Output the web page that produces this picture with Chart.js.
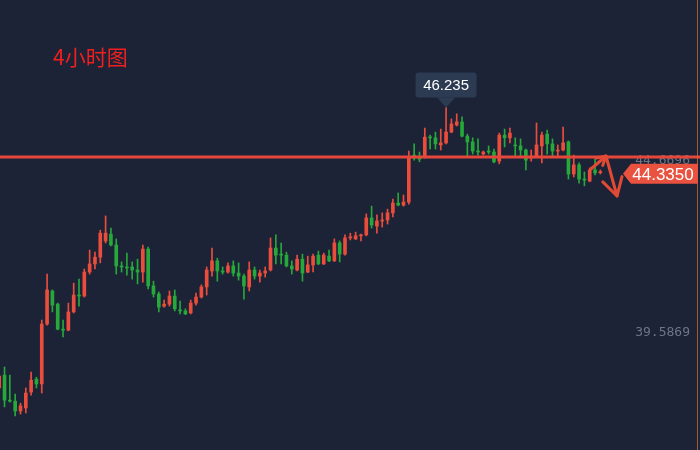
<!DOCTYPE html>
<html>
<head>
<meta charset="utf-8">
<script src="https://cdn.jsdelivr.net/npm/chart.js@4.4.0/dist/chart.umd.min.js"></script>
<style>
  html, body { margin: 0; padding: 0; background: #1c2336; }
  #wrap { width: 700px; height: 450px; position: relative; }
</style>
</head>
<body>
<div id="wrap"><canvas id="kline"></canvas></div>
<script>
// 4h candles, oldest first
const open = [
  37.94, 38.32, 37.58, 37.55, 37.26, 37.35, 37.82, 38.20, 38.06, 39.83,
  40.81, 40.42, 39.68, 39.65, 40.19, 40.69, 40.66, 41.37, 41.61, 41.81,
  42.29, 42.49, 42.17, 41.55, 41.52, 41.52, 41.43, 41.37, 42.05, 40.96,
  40.72, 40.36, 40.42, 40.66, 40.25, 40.22, 40.16, 40.45, 40.63, 40.93,
  41.40, 41.70, 41.40, 41.37, 41.55, 41.34, 41.25, 40.93, 41.43, 41.25,
  41.34, 41.43, 42.08, 41.90, 41.87, 41.55, 41.43, 41.75, 41.37, 41.58,
  41.87, 41.61, 41.84, 41.70, 42.23, 41.90, 42.38, 42.35, 42.44, 42.47,
  42.97, 42.73, 42.88, 42.91, 43.12, 43.41, 43.35, 43.44, 44.83, 44.77,
  44.77, 45.36, 45.34, 45.13, 45.19, 45.51, 45.72, 45.81, 45.39, 45.22,
  44.95, 44.86, 44.95, 44.92, 44.65, 45.42, 45.34, 45.13, 45.10, 44.98,
  44.74, 44.80, 45.10, 45.45, 45.16, 44.95, 44.98, 45.22, 44.27, 44.54,
  44.12, 44.06, 44.39, 44.31
];
const high = [
  38.41, 38.56, 38.32, 37.76, 37.49, 37.94, 38.41, 38.26, 39.95, 41.31,
  40.84, 40.45, 39.95, 40.45, 41.04, 41.16, 41.46, 42.02, 41.96, 42.61,
  43.03, 42.67, 42.35, 41.67, 41.93, 41.67, 41.75, 42.17, 42.11, 41.10,
  40.78, 40.54, 40.81, 40.84, 40.51, 40.28, 40.54, 40.75, 40.99, 41.52,
  42.08, 41.78, 41.52, 41.64, 41.70, 41.64, 41.31, 41.67, 41.52, 41.43,
  41.52, 42.38, 42.47, 42.23, 41.96, 41.70, 41.87, 41.90, 41.84, 41.90,
  41.99, 41.93, 42.02, 42.35, 42.29, 42.47, 42.52, 42.55, 42.49, 43.09,
  43.32, 43.06, 43.12, 43.23, 43.53, 43.71, 43.65, 44.95, 45.16, 44.92,
  45.63, 45.42, 45.51, 45.60, 46.235, 45.90, 46.05, 45.96, 45.45, 45.34,
  45.31, 44.95, 45.10, 45.01, 45.48, 45.60, 45.63, 45.34, 45.31, 45.01,
  44.98, 45.78, 45.51, 45.57, 45.31, 45.13, 45.66, 45.25, 44.83, 44.60,
  44.33, 44.45, 44.71, 44.39
];
const low = [
  37.82, 37.38, 37.52, 37.11, 37.17, 37.20, 37.73, 37.94, 37.79, 39.80,
  40.19, 39.66, 39.45, 39.63, 40.16, 40.36, 40.63, 41.31, 41.46, 41.64,
  42.23, 42.14, 41.31, 41.37, 41.28, 41.16, 41.02, 41.07, 40.87, 40.63,
  40.19, 40.33, 40.36, 40.22, 40.13, 40.11, 40.13, 40.39, 40.60, 40.69,
  41.25, 41.10, 41.31, 41.34, 41.25, 41.13, 40.57, 40.81, 41.16, 41.07,
  41.22, 41.40, 41.61, 41.61, 41.52, 41.31, 41.40, 41.10, 41.35, 41.37,
  41.59, 41.59, 41.68, 41.68, 41.67, 41.87, 42.32, 42.33, 42.29, 42.44,
  42.67, 42.52, 42.70, 42.79, 43.00, 43.33, 43.32, 43.38, 44.68, 44.63,
  44.74, 45.01, 45.01, 44.98, 45.16, 45.49, 45.69, 45.37, 44.80, 44.86,
  44.83, 44.83, 44.86, 44.60, 44.57, 45.07, 45.19, 44.80, 44.80, 44.39,
  44.65, 44.77, 44.60, 44.86, 44.80, 44.80, 44.95, 44.12, 44.18, 44.00,
  43.92, 44.04, 44.24, 44.27
];
const close = [
  38.29, 37.58, 37.55, 37.26, 37.41, 37.79, 38.17, 38.06, 39.83, 40.84,
  40.39, 39.68, 39.65, 40.19, 40.69, 40.66, 41.37, 41.61, 41.81, 42.52,
  42.52, 42.17, 41.55, 41.52, 41.49, 41.43, 41.37, 42.05, 40.96, 40.72,
  40.33, 40.42, 40.66, 40.28, 40.22, 40.13, 40.45, 40.63, 40.93, 41.43,
  41.70, 41.40, 41.37, 41.55, 41.34, 41.25, 40.96, 41.43, 41.25, 41.34,
  41.40, 42.08, 41.87, 41.87, 41.55, 41.46, 41.75, 41.34, 41.58, 41.84,
  41.61, 41.87, 41.70, 42.23, 41.90, 42.38, 42.41, 42.44, 42.47, 42.97,
  42.76, 42.88, 42.91, 43.12, 43.41, 43.35, 43.44, 44.77, 44.74, 44.71,
  45.36, 45.34, 45.16, 45.19, 45.51, 45.75, 45.81, 45.39, 45.22, 44.95,
  44.92, 44.92, 44.92, 44.63, 45.42, 45.34, 45.48, 45.10, 44.98, 44.68,
  44.80, 45.13, 45.42, 45.16, 44.95, 44.98, 45.19, 44.27, 44.54, 44.12,
  44.09, 44.39, 44.30, 44.335
];
const priceTicks = [39.5869, 44.6696];
const peakPrice = 46.235;
const lastPrice = 44.335;
const lineLevel = 44.773;
const chartTitle = '4小时图';
// hand drawn zigzag, [candle index, price]
const arrowPts = [[111.24, 44.418], [114.06, 44.803], [116.13, 43.619]];

const UP = '#eb4d3d';
const DOWN = '#26a83a';
const candleColors = close.map((c, i) => c >= open[i] ? UP : DOWN);
const peakIdx = high.indexOf(Math.max(...high));

function arrowHead(ctx, x0, y0, x1, y1, len) {
    const a = Math.atan2(y1 - y0, x1 - x0);
    ctx.beginPath();
    ctx.moveTo(x1 + len * Math.cos(a + Math.PI - 0.52), y1 + len * Math.sin(a + Math.PI - 0.52));
    ctx.lineTo(x1, y1);
    ctx.lineTo(x1 + len * Math.cos(a + Math.PI + 0.52), y1 + len * Math.sin(a + Math.PI + 0.52));
    ctx.stroke();
}

const overlay = {
    id: 'overlay',
    afterDraw(chart) {
        const ctx = chart.ctx;
        const xs = chart.scales.x, ys = chart.scales.y;
        const W = chart.width;
        ctx.save();

        // title
        ctx.fillStyle = '#f21f1f';
        ctx.font = '21px "Noto Sans CJK SC"';
        ctx.textAlign = 'left';
        ctx.textBaseline = 'middle';
        ctx.fillText(chartTitle, 53, 57);

        // horizontal level
        const ly = ys.getPixelForValue(lineLevel);
        ctx.strokeStyle = '#e5483a';
        ctx.lineWidth = 3;
        ctx.beginPath();
        ctx.moveTo(0, ly);
        ctx.lineTo(W, ly);
        ctx.stroke();

        // right edge line
        ctx.strokeStyle = 'rgba(214,110,60,0.75)';
        ctx.lineWidth = 1;
        ctx.beginPath();
        ctx.moveTo(697.5, 0);
        ctx.lineTo(697.5, chart.height);
        ctx.stroke();

        // last price tag
        const cy = ys.getPixelForValue(lastPrice) + 2;
        ctx.fillStyle = '#e8523f';
        ctx.beginPath();
        ctx.moveTo(623, cy);
        ctx.lineTo(631, cy - 10);
        ctx.lineTo(698, cy - 10);
        ctx.lineTo(698, cy + 10);
        ctx.lineTo(631, cy + 10);
        ctx.closePath();
        ctx.fill();
        ctx.fillStyle = '#ffffff';
        ctx.font = '17px "Liberation Sans"';
        ctx.textAlign = 'center';
        ctx.fillText(lastPrice.toFixed(4), 663, cy + 1);

        // peak bubble
        const px = xs.getPixelForValue(peakIdx);
        const py = ys.getPixelForValue(peakPrice);
        const bw = 61, bh = 25, th = 10;
        ctx.fillStyle = '#2c3a52';
        ctx.beginPath();
        ctx.roundRect(px - bw / 2, py - th - bh, bw, bh, 3);
        ctx.fill();
        ctx.beginPath();
        ctx.moveTo(px - 9, py - th);
        ctx.lineTo(px, py);
        ctx.lineTo(px + 9, py - th);
        ctx.closePath();
        ctx.fill();
        ctx.fillStyle = '#ffffff';
        ctx.font = '15px "Liberation Sans"';
        ctx.fillText(peakPrice.toFixed(3), px, py - th - bh / 2 + 1);

        // zigzag arrow
        const p = arrowPts.map(([i, v]) => [xs.getPixelForValue(i), ys.getPixelForValue(v)]);
        ctx.strokeStyle = '#e24a35';
        ctx.lineWidth = 3;
        ctx.lineCap = 'round';
        ctx.lineJoin = 'round';
        ctx.beginPath();
        ctx.moveTo(p[0][0], p[0][1]);
        ctx.lineTo(p[1][0], p[1][1]);
        ctx.lineTo(p[2][0], p[2][1]);
        ctx.stroke();
        arrowHead(ctx, p[0][0], p[0][1], p[1][0], p[1][1], 10);
        arrowHead(ctx, p[1][0], p[1][1], p[2][0], p[2][1], 20);

        ctx.restore();
    }
};

const ctxK = document.getElementById('kline').getContext('2d');
const kline = new Chart(ctxK, {
    type: 'bar',
    data: {
        datasets: [{
            label: 'body',
            data: open.map((o, i) => ({ x: i, y: [o, close[i]] })),
            backgroundColor: candleColors,
            barThickness: 3,
            minBarLength: 1,
            grouped: false
        },
        {
            label: 'wick',
            data: low.map((l, i) => ({ x: i, y: [l, high[i]] })),
            backgroundColor: candleColors,
            barThickness: 1,
            grouped: false
        }]
    },
    options: {
        responsive: true,
        maintainAspectRatio: false,
        animation: false,
        layout: { padding: 0 },
        plugins: {
            legend: { display: false },
            tooltip: { enabled: false }
        },
        scales: {
            x: {
                type: 'linear',
                min: 0.15,
                max: 131.73,
                offset: false,
                display: false
            },
            y: {
                position: 'right',
                min: 36.105,
                max: 49.418,
                grid: { display: false, drawTicks: false },
                border: { display: false },
                afterBuildTicks: s => { s.ticks = priceTicks.map(v => ({ value: v })); },
                afterFit: s => { s.width = 0; s.paddingTop = 0; s.paddingBottom = 0; },
                ticks: {
                    mirror: true,
                    padding: -10,
                    crossAlign: 'near',
                    color: '#6e7587',
                    font: { family: 'DejaVu Sans Mono', size: 13 },
                    callback: v => v.toFixed(4)
                }
            }
        }
    },
    plugins: [overlay]
});
</script>
</body>
</html>
